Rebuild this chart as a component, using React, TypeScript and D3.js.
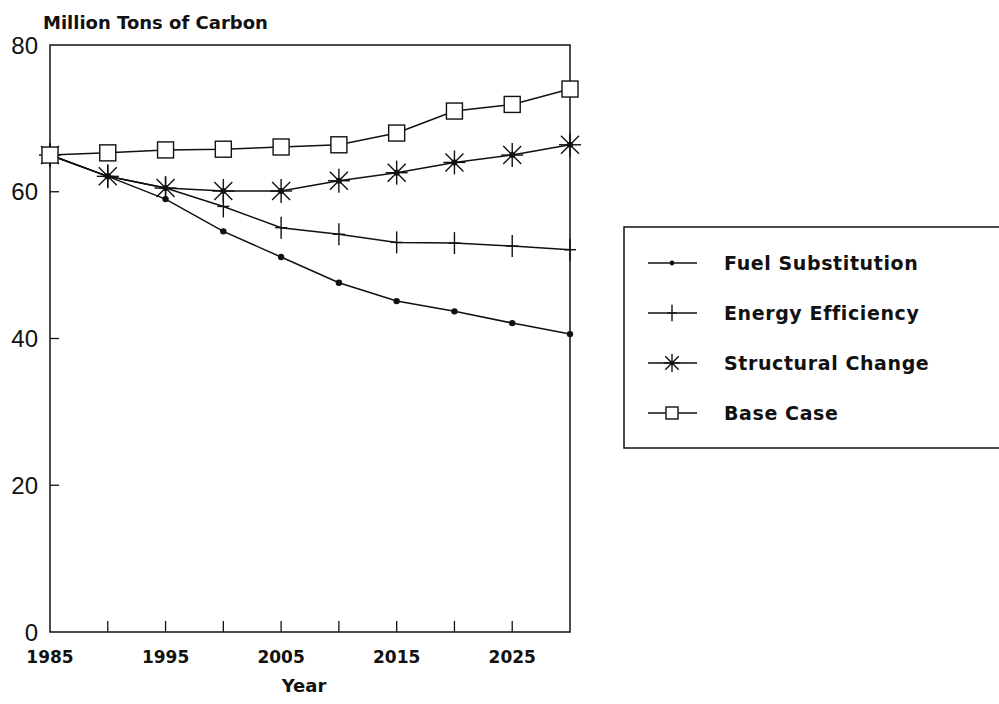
import React from "react";
import * as d3 from "d3";

const years = [1985, 1990, 1995, 2000, 2005, 2010, 2015, 2020, 2025, 2030];
const fuelSubstitution = [65, 62.1, 59.0, 54.6, 51.1, 47.6, 45.1, 43.7, 42.1, 40.6];
const energyEfficiency = [65, 62.1, 60.5, 58.0, 55.1, 54.2, 53.1, 53.0, 52.6, 52.1];
const structuralChange = [65, 62.1, 60.5, 60.1, 60.1, 61.5, 62.6, 64.0, 65.0, 66.4];
const baseCase = [65, 65.3, 65.7, 65.8, 66.1, 66.4, 68.0, 71.0, 71.9, 74.0];
const yTicks = [0, 20, 40, 60, 80];
const xTickLabels = [1985, 1995, 2005, 2015, 2025];
const legendLabels = ["Fuel Substitution", "Energy Efficiency", "Structural Change", "Base Case"];

const series = [
  { name: legendLabels[0], values: fuelSubstitution, marker: "dot" },
  { name: legendLabels[1], values: energyEfficiency, marker: "plus" },
  { name: legendLabels[2], values: structuralChange, marker: "star" },
  { name: legendLabels[3], values: baseCase, marker: "square" },
];

const BOLD = "'DejaVu Sans', sans-serif";
const REG = "'Liberation Sans', Arial, sans-serif";

function Marker({ type, x, y, s = 1 }: { type: string; x: number; y: number; s?: number }) {
  const sw = 1.4;
  if (type === "dot") return <circle cx={x} cy={y} r={3.2 * s} fill="#111" />;
  if (type === "plus")
    return (
      <g stroke="#111" strokeWidth={sw}>
        <line x1={x} x2={x} y1={y - 11 * s} y2={y + 11 * s} />
        <line x1={x - 6 * s} x2={x + 6 * s} y1={y} y2={y} />
      </g>
    );
  if (type === "star")
    return (
      <g stroke="#111" strokeWidth={sw}>
        <line x1={x} x2={x} y1={y - 12 * s} y2={y + 12 * s} />
        <line x1={x - 11 * s} x2={x + 11 * s} y1={y} y2={y} />
        <line x1={x - 9 * s} x2={x + 9 * s} y1={y - 9 * s} y2={y + 9 * s} />
        <line x1={x - 9 * s} x2={x + 9 * s} y1={y + 9 * s} y2={y - 9 * s} />
        <circle cx={x} cy={y} r={3 * s} fill="#111" stroke="none" />
      </g>
    );
  return (
    <rect x={x - 8 * s} y={y - 8 * s} width={16 * s} height={16 * s} fill="white" stroke="#111" strokeWidth={sw} />
  );
}

export default function App() {
  const left = 50, right = 570, top = 45, bottom = 632;
  const x = d3.scaleLinear().domain([1985, 2030]).range([left, right]);
  const y = d3.scaleLinear().domain([0, 80]).range([bottom, top]);
  const line = d3.line<number>().x((_, i) => x(years[i])).y((v) => y(v));
  const innerTicks = years.slice(1, -1);

  return (
    <svg width={999} height={704} style={{ position: "absolute", left: 0, top: 0, background: "white" }}>
      <rect width={999} height={704} fill="white" />
      <text x={43} y={29} fontFamily={BOLD} fontWeight="bold" fontSize={18} fill="#111">
        Million Tons of Carbon
      </text>
      {/* frame */}
      <rect x={left} y={top} width={right - left} height={bottom - top} fill="none" stroke="#111" strokeWidth={1.5} />
      {/* y ticks and labels */}
      {yTicks.map((t) => (
        <g key={t}>
          {t > 0 && t < 80 && <line x1={left} x2={left + 9} y1={y(t)} y2={y(t)} stroke="#111" strokeWidth={1.3} />}
          <text x={38} y={y(t)} dy="0.36em" textAnchor="end" fontFamily={REG} fontSize={24} fill="#111">
            {t}
          </text>
        </g>
      ))}
      {/* x ticks */}
      {innerTicks.map((t) => (
        <line key={t} x1={x(t)} x2={x(t)} y1={bottom} y2={bottom - 11} stroke="#111" strokeWidth={1.3} />
      ))}
      {xTickLabels.map((t) => (
        <text key={t} x={x(t)} y={663} textAnchor="middle" fontFamily={BOLD} fontWeight="bold" fontSize={17} fill="#111">
          {t}
        </text>
      ))}
      <text x={304} y={692} textAnchor="middle" fontFamily={BOLD} fontWeight="bold" fontSize={18} fill="#111">
        Year
      </text>
      {/* series */}
      {series.map((s) => (
        <g key={s.name}>
          <path d={line(s.values) || ""} fill="none" stroke="#111" strokeWidth={1.5} />
          {s.values.map((v, i) => (
            <Marker key={i} type={s.marker} x={x(years[i])} y={y(v)} />
          ))}
        </g>
      ))}
      {/* legend */}
      <rect x={624} y={227} width={400} height={221} fill="none" stroke="#111" strokeWidth={1.5} />
      {series.map((s, i) => {
        const ly = 263 + i * 50;
        return (
          <g key={s.name}>
            <line x1={648} x2={697} y1={ly} y2={ly} stroke="#111" strokeWidth={1.4} />
            <Marker type={s.marker} x={672} y={ly} s={0.75} />
            <text x={724} y={ly} dy="0.36em" fontFamily={BOLD} fontWeight="bold" fontSize={19} letterSpacing={0.6} fill="#111">
              {s.name}
            </text>
          </g>
        );
      })}
    </svg>
  );
}
